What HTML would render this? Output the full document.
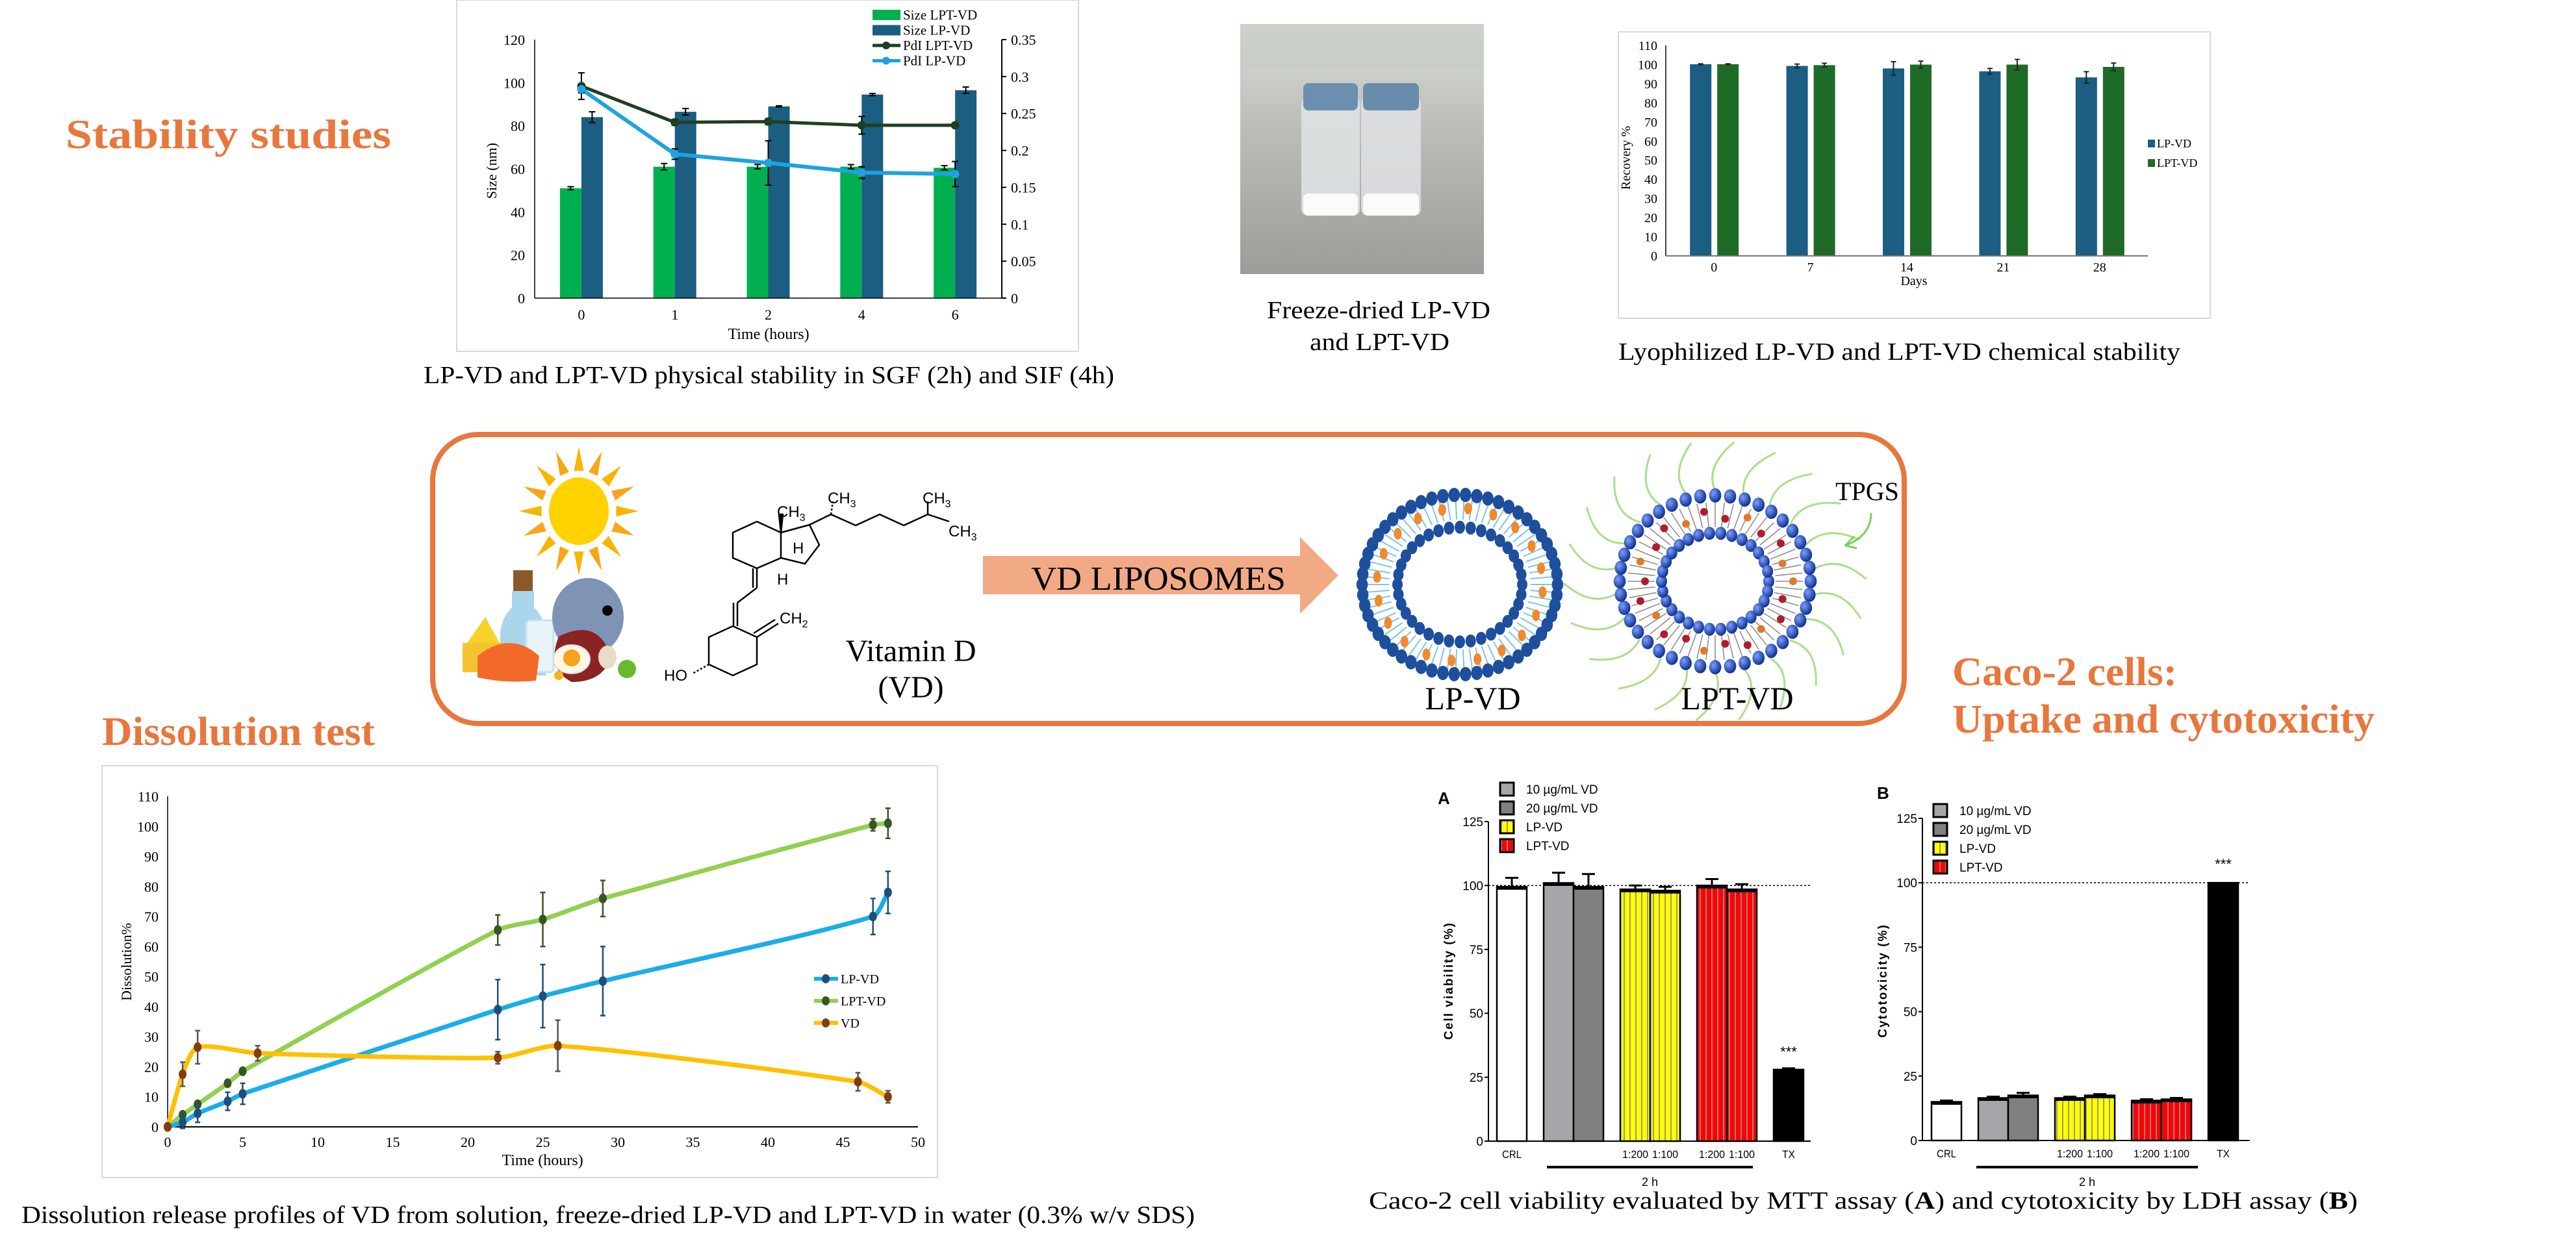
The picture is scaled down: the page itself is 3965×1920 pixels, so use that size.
<!DOCTYPE html>
<html><head><meta charset="utf-8"><style>
html,body{margin:0;padding:0;background:#fff;}
svg{display:block;}
text{font-family:"Liberation Serif",serif;}
.sans{font-family:"Liberation Sans",sans-serif;}
</style></head><body>
<svg id="root" width="3965" height="1920" viewBox="0 0 3965 1920" xmlns="http://www.w3.org/2000/svg">
<defs>
<pattern id="pYel" width="9" height="10" patternUnits="userSpaceOnUse"><rect width="9" height="10" fill="#ffff00"/><rect x="6" width="2" height="10" fill="#9a9a80"/></pattern>
<pattern id="pRed" width="9" height="10" patternUnits="userSpaceOnUse"><rect width="9" height="10" fill="#ff0000"/><rect x="6" width="2" height="10" fill="#a08080"/></pattern>
<radialGradient id="gBall" cx="0.35" cy="0.35" r="0.7"><stop offset="0" stop-color="#7aa0ff"/><stop offset="1" stop-color="#0b2a8a"/></radialGradient>
<linearGradient id="gPhoto" x1="0" y1="0" x2="0" y2="1"><stop offset="0" stop-color="#d8dcd8"/><stop offset="0.45" stop-color="#b9bbb6"/><stop offset="1" stop-color="#9c9d99"/></linearGradient>
</defs>

<!-- Titles -->
<text x="101" y="228" font-size="64" font-weight="bold" fill="#E8773D" textLength="501" lengthAdjust="spacingAndGlyphs">Stability studies</text>
<text x="157" y="1147" font-size="62" font-weight="bold" fill="#E8773D" textLength="420" lengthAdjust="spacingAndGlyphs">Dissolution test</text>
<text x="3005" y="1055" font-size="62" font-weight="bold" fill="#E8773D" textLength="346" lengthAdjust="spacingAndGlyphs">Caco-2 cells:</text>
<text x="3005" y="1128" font-size="62" font-weight="bold" fill="#E8773D" textLength="650" lengthAdjust="spacingAndGlyphs">Uptake and cytotoxicity</text>

<!-- Captions -->
<text x="652" y="590" font-size="38" textLength="1063" lengthAdjust="spacingAndGlyphs">LP-VD and LPT-VD physical stability in SGF (2h) and SIF (4h)</text>
<text x="1950" y="490" font-size="38" textLength="344" lengthAdjust="spacingAndGlyphs">Freeze-dried LP-VD</text>
<text x="2016" y="539" font-size="38" textLength="215" lengthAdjust="spacingAndGlyphs">and LPT-VD</text>
<text x="2491" y="554" font-size="38" textLength="865" lengthAdjust="spacingAndGlyphs">Lyophilized LP-VD and LPT-VD chemical stability</text>
<text x="33" y="1883" font-size="38" textLength="1806" lengthAdjust="spacingAndGlyphs">Dissolution release profiles of VD from solution, freeze-dried LP-VD and LPT-VD in water (0.3% w/v SDS)</text>
<text x="2107" y="1861" font-size="38" textLength="1522" lengthAdjust="spacingAndGlyphs">Caco-2 cell viability evaluated by MTT assay (<tspan font-weight="bold">A</tspan>) and cytotoxicity by LDH assay (<tspan font-weight="bold">B</tspan>)</text>

<!-- Photo -->
<g>
<rect x="1909" y="37" width="375" height="385" fill="url(#gPhoto)"/>
<rect x="1909" y="37" width="375" height="70" fill="#c8ccc6" opacity="0.7"/>
<rect x="2003" y="150" width="90" height="182" rx="10" fill="#e1e4e6" opacity="0.85"/>
<rect x="2095" y="150" width="92" height="182" rx="10" fill="#dfe2e5" opacity="0.85"/>
<rect x="2006" y="128" width="84" height="42" rx="8" fill="#6d8fae"/>
<rect x="2098" y="128" width="86" height="42" rx="8" fill="#6a8cab"/>
<rect x="2006" y="298" width="84" height="34" rx="8" fill="#fbfbfb"/>
<rect x="2098" y="298" width="86" height="34" rx="8" fill="#fbfbfb"/>
</g>

<!-- Middle box -->
<rect x="666" y="669" width="2265" height="445" rx="70" fill="#fff" stroke="#E8773D" stroke-width="8"/>
<g id="sun"></g>
<g>
<rect x="790" y="878" width="30" height="32" fill="#8a5a2b"/>
<path d="M788 910 h34 v25 q18 18 18 45 v60 h-70 v-60 q0 -27 18 -45z" fill="#a9d6ea"/>
<rect x="810" y="955" width="42" height="80" rx="6" fill="#e8f4f8" stroke="#bfe3ef" stroke-width="3"/>
<ellipse cx="905" cy="950" rx="55" ry="60" fill="#7f93b5"/>
<circle cx="935" cy="940" r="8" fill="#000"/>
<path d="M712 1000 l35 -50 l30 55 z" fill="#f7d22a"/>
<rect x="712" y="990" width="65" height="45" fill="#f4c430"/>
<path d="M860 980 q60 -30 80 30 q-10 40 -60 40 q-40 -20 -20 -70z" fill="#8c2323"/>
<path d="M735 1010 q50 -40 95 0 l-5 38 q-45 5 -90 -5z" fill="#f26a2a"/>
<ellipse cx="880" cy="1015" rx="28" ry="22" fill="#fff7e6" stroke="#ddd" stroke-width="2"/>
<circle cx="880" cy="1013" r="13" fill="#f7a21b"/>
<circle cx="965" cy="1030" r="14" fill="#69b92e"/>
<ellipse cx="935" cy="1012" rx="14" ry="18" fill="#e9dcc8"/>
<circle cx="860" cy="1040" r="7" fill="#f5b321"/>
</g>
<g id="molecule" fill="none" stroke="#000" stroke-width="2.5">
<polyline points="1165,803 1202,820 1202,859 1165,875 1128,859 1128,820 1165,803"/>
<polyline points="1202,820 1246,808 1261,839 1239,868 1202,859"/>
<polyline points="1246,808 1279,792 1317,809 1354,792 1391,809 1428,792 1461,803"/>
<line x1="1428" y1="792" x2="1428" y2="772"/>
<line x1="1279" y1="792" x2="1282" y2="772" stroke-dasharray="3,3"/>
<polygon points="1202,820 1199,792 1205,792" fill="#000"/>
<line x1="1165" y1="875" x2="1165" y2="905"/><line x1="1159" y1="875" x2="1159" y2="905"/>
<line x1="1165" y1="905" x2="1135" y2="928"/>
<line x1="1135" y1="928" x2="1135" y2="964"/><line x1="1129" y1="928" x2="1129" y2="964"/>
<polyline points="1128,964 1165,981 1165,1023 1128,1040 1091,1023 1091,981 1128,964"/>
<line x1="1165" y1="981" x2="1198" y2="960"/><line x1="1160" y1="975" x2="1193" y2="954"/>
<line x1="1091" y1="1023" x2="1066" y2="1037" stroke-dasharray="3,3"/>
</g>
<g font-size="24" class="sans">
<text x="1274" y="775" class="sans">CH<tspan font-size="16" dy="6">3</tspan></text>
<text x="1420" y="775" class="sans">CH<tspan font-size="16" dy="6">3</tspan></text>
<text x="1196" y="796" class="sans">CH<tspan font-size="16" dy="6">3</tspan></text>
<text x="1460" y="826" class="sans">CH<tspan font-size="16" dy="6">3</tspan></text>
<text x="1220" y="852" class="sans">H</text>
<text x="1196" y="900" class="sans">H</text>
<text x="1200" y="960" class="sans">CH<tspan font-size="16" dy="6">2</tspan></text>
<text x="1022" y="1048" class="sans">HO</text>
</g>
<text x="1402" y="1018" font-size="48" text-anchor="middle">Vitamin D</text>
<text x="1402" y="1074" font-size="48" text-anchor="middle">(VD)</text>
<polygon points="1513,856 2001,856 2001,827 2060,886 2001,945 2001,915 1513,915" fill="#F2AA86"/>
<text x="1587" y="908" font-size="52" textLength="392" lengthAdjust="spacingAndGlyphs">VD LIPOSOMES</text>
<g id="lipo1"></g>
<g id="lipo2"></g>
<text x="2267" y="1092" font-size="50" text-anchor="middle">LP-VD</text>
<text x="2674" y="1092" font-size="50" text-anchor="middle">LPT-VD</text>
<text x="2874" y="770" font-size="40" text-anchor="middle">TPGS</text>
<path d="M2880 790 q0 35 -40 50 m0 0 l14 -14 m-14 14 l18 4" fill="none" stroke="#7ccf5a" stroke-width="3"/>

<!-- Chart frames -->
<rect x="703" y="0" width="957" height="541" fill="none" stroke="#d9d9d9" stroke-width="2"/>
<rect x="2491" y="49" width="911" height="441" fill="none" stroke="#d9d9d9" stroke-width="2"/>
<rect x="157" y="1179" width="1286" height="634" fill="none" stroke="#d9d9d9" stroke-width="2"/>

<g id="c1"></g>
<g id="c2"></g>
<g id="c3"></g>
<g id="cA"></g>
<g id="cB"></g>
</svg>
<script>
// ===== Chart 1 data =====
const c1Cats = ['0','1','2','4','6'];
const c1SizeLPT = [51, 61, 61, 61, 60.5];
const c1SizeLPTErr = [0.7, 1.5, 1, 1, 1];
const c1SizeLP = [84, 86.5, 89, 94.5, 96.5];
const c1SizeLPErr = [2.5, 1.5, 0.3, 0.5, 1.5];
const c1PdiLPT = [0.287, 0.238, 0.239, 0.234, 0.234];
const c1PdiLPTErr = [0.018, 0.004, 0.004, 0.012, 0.003];
const c1PdiLP = [0.283, 0.195, 0.183, 0.170, 0.168];
const c1PdiLPErr = [0.005, 0.007, 0.03, 0.008, 0.017];
const c1LeftTicks = [0, 20, 40, 60, 80, 100, 120];
const c1RightTicks = ['0', '0.05', '0.1', '0.15', '0.2', '0.25', '0.3', '0.35'];
// ===== Chart 2 data =====
const c2XTicks = [0, 5, 10, 15, 20, 25, 30, 35, 40, 45, 50];
const c2YTicks = [0, 10, 20, 30, 40, 50, 60, 70, 80, 90, 100, 110];
const c2LPt = [0, 1, 2, 4, 5, 22, 25, 29, 47, 48];
const c2LP = [0, 1.5, 4.5, 8.5, 11, 39, 43.5, 48.5, 70, 78];
const c2LPErr = [0, 2, 3, 3, 3.5, 10, 10.5, 11.5, 6, 7];
const c2LPTt = [0, 1, 2, 4, 5, 22, 25, 29, 47, 48];
const c2LPT = [0, 4, 7.5, 14.5, 18.5, 65.5, 69, 76, 100.5, 101];
const c2LPTErr = [0, 0.5, 1, 1, 1, 5, 9, 6, 2, 5];
const c2VDt = [0, 1, 2, 6, 22, 26, 46, 48];
const c2VD = [0, 17.5, 26.5, 24.5, 23, 27, 15, 10];
const c2VDErr = [0, 4, 5.5, 2.5, 2, 8.5, 3, 2];
// ===== Chart 3 data =====
const c3Cats = ['0', '7', '14', '21', '28'];
const c3LP = [100.2, 99.3, 98, 96.5, 93.3];
const c3LPErr = [0.2, 1, 3.5, 1.5, 3];
const c3LPT = [100.2, 99.7, 100, 100, 98.8];
const c3LPTErr = [0.2, 1, 1.8, 2.7, 2];
const c3YTicks = [0, 10, 20, 30, 40, 50, 60, 70, 80, 90, 100, 110];
// ===== Caco-2 data =====
const cacoGroups = [[0], [1, 2], [3, 4], [5, 6], [7]];
const cacoXLabels = ['CRL', '', '', '1:200', '1:100', '1:200', '1:100', 'TX'];
const cacoViability = [99.5, 101, 99.5, 98.5, 98, 100, 98.5, 28];
const cacoViabilityErr = [3.5, 4, 5, 1.5, 1.5, 2.5, 2, 0.5];
const cacoCytotox = [15, 16.5, 17.5, 16.5, 17.5, 15.5, 16, 100];
const cacoCytotoxErr = [0.5, 0.5, 1, 0.5, 0.5, 0.5, 0.5, 0];
const cacoYTicks = [0, 25, 50, 75, 100, 125];
const cacoLegend = ['10 µg/mL VD', '20 µg/mL VD', 'LP-VD', 'LPT-VD'];

const NS = 'http://www.w3.org/2000/svg';
function mk(tag, attrs, parent) {
  const el = document.createElementNS(NS, tag);
  for (const k in attrs) el.setAttribute(k, attrs[k]);
  parent.appendChild(el);
  return el;
}
function txt(s, attrs, parent) { const t = mk('text', attrs, parent); t.textContent = s; return t; }

// ---------- Chart 1 ----------
(function () {
  const g = document.getElementById('c1');
  const L = 823, R = 1542, B = 459, T = 61;
  const y = v => B - v * (B - T) / 120;
  const yr = v => B - v * (B - T) / 0.35;
  const band = (R - L) / c1Cats.length;
  const cx = i => L + band * (i + 0.5);
  c1LeftTicks.forEach(v => {
    const t = txt(String(v), {x: 808, y: y(v) + 8, 'font-size': 22, 'text-anchor': 'end'}, g);
    
    
  });
  c1RightTicks.forEach(s => {
    const v = parseFloat(s);
    const t = txt(s, {x: 1556, y: yr(v) + 8, 'font-size': 22}, g);
    
    
    mk('line', {x1: R, x2: R + 7, y1: yr(v), y2: yr(v), stroke: '#000', 'stroke-width': 2}, g);
  });
  c1Cats.forEach((c, i) => {
    const bw = 33;
    const b1 = mk('rect', {x: cx(i) - bw, y: y(c1SizeLPT[i]), width: bw, height: B - y(c1SizeLPT[i]), fill: '#00B050'}, g);
    
    
    const b2 = mk('rect', {x: cx(i), y: y(c1SizeLP[i]), width: bw, height: B - y(c1SizeLP[i]), fill: '#1B5E82'}, g);
    
    
    [[cx(i) - bw / 2, c1SizeLPT[i], c1SizeLPTErr[i]], [cx(i) + bw / 2, c1SizeLP[i], c1SizeLPErr[i]]].forEach(([x, v, e]) => {
      mk('path', {d: `M${x} ${y(v + e)}V${y(v - e)}M${x - 5} ${y(v + e)}h10M${x - 5} ${y(v - e)}h10`, stroke: '#000', 'stroke-width': 2, fill: 'none'}, g);
    });
    const l = txt(c, {x: cx(i), y: 492, 'font-size': 22, 'text-anchor': 'middle'}, g);
    
    
  });
  [[c1PdiLPT, c1PdiLPTErr, '#1E3F20', 5, 'pdi-lpt-vd-line'], [c1PdiLP, c1PdiLPErr, '#1EA3DE', 6, 'pdi-lp-vd-line']].forEach(([vals, errs, col, w, nm]) => {
    const pl = mk('polyline', {points: vals.map((v, i) => cx(i) + ',' + yr(v)).join(' '), fill: 'none', stroke: col, 'stroke-width': w}, g);
    
    
    vals.forEach((v, i) => {
      const e = errs[i], x = cx(i);
      mk('path', {d: `M${x} ${yr(v + e)}V${yr(v - e)}M${x - 5} ${yr(v + e)}h10M${x - 5} ${yr(v - e)}h10`, stroke: '#000', 'stroke-width': 2, fill: 'none'}, g);
      const p = mk('circle', {cx: x, cy: yr(v), r: 6.5, fill: col}, g);
      
      
    });
  });
  mk('line', {x1: L, x2: L, y1: T, y2: B, stroke: '#000', 'stroke-width': 1.5}, g);
  mk('line', {x1: R, x2: R, y1: T, y2: B, stroke: '#000', 'stroke-width': 2}, g);
  mk('line', {x1: L, x2: R, y1: B, y2: B, stroke: '#000', 'stroke-width': 1.5}, g);
  const xt = txt('Time (hours)', {x: 1183, y: 522, 'font-size': 24, 'text-anchor': 'middle'}, g);
  
  
  const yt = txt('Size (nm)', {x: 0, y: 0, 'font-size': 22, 'text-anchor': 'middle', transform: 'translate(764,263) rotate(-90)'}, g);
  
  
  const leg = [['Size LPT-VD', '#00B050', 'bar'], ['Size LP-VD', '#1B5E82', 'bar'], ['PdI LPT-VD', '#1E3F20', 'line'], ['PdI LP-VD', '#1EA3DE', 'line']];
  leg.forEach(([s, col, k], i) => {
    const yy = 23 + i * 23.5;
    if (k === 'bar') mk('rect', {x: 1343, y: yy - 8, width: 43, height: 16, fill: col}, g);
    else { mk('line', {x1: 1343, x2: 1386, y1: yy, y2: yy, stroke: col, 'stroke-width': 5}, g); mk('circle', {cx: 1364, cy: yy, r: 6, fill: col}, g); }
    const t = txt(s, {x: 1390, y: yy + 7, 'font-size': 21}, g);
    
    
  });
})();

// ---------- Chart 2 ----------
// Gentle smoothing: tangent direction from neighbours, handle length limited to a fraction of each segment
function smoothPath(pts) {
  const n = pts.length;
  const dirs = [];
  for (let i = 0; i < n; i++) {
    const p0 = pts[Math.max(0, i - 1)], p2 = pts[Math.min(n - 1, i + 1)];
    let dx = p2[0] - p0[0], dy = p2[1] - p0[1];
    const l = Math.hypot(dx, dy) || 1;
    dirs.push([dx / l, dy / l]);
  }
  let d = `M${pts[0][0]} ${pts[0][1]}`;
  for (let i = 0; i < n - 1; i++) {
    const a = pts[i], b = pts[i + 1];
    const len = Math.hypot(b[0] - a[0], b[1] - a[1]);
    const h = len * 0.22;
    d += `C${a[0] + dirs[i][0] * h} ${a[1] + dirs[i][1] * h} ${b[0] - dirs[i + 1][0] * h} ${b[1] - dirs[i + 1][1] * h} ${b[0]} ${b[1]}`;
  }
  return d;
}
(function () {
  const g = document.getElementById('c2');
  const L = 258, R = 1413, B = 1735, T = 1226;
  const x = v => L + v * (R - L) / 50;
  const y = v => B - v * (B - T) / 110;
  c2YTicks.forEach(v => {
    const t = txt(String(v), {x: 244, y: y(v) + 8, 'font-size': 22, 'text-anchor': 'end'}, g);
    
    
  });
  c2XTicks.forEach(v => {
    const t = txt(String(v), {x: x(v), y: 1766, 'font-size': 22, 'text-anchor': 'middle'}, g);
    
    
  });
  mk('line', {x1: L, x2: L, y1: T, y2: B, stroke: '#000', 'stroke-width': 1.5}, g);
  mk('line', {x1: L, x2: R, y1: B, y2: B, stroke: '#000', 'stroke-width': 2}, g);
  const series = [
    [c2LPTt, c2LPT, c2LPTErr, '#92D050', '#375623', 'lpt-vd-series'],
    [c2LPt, c2LP, c2LPErr, '#1AAEE8', '#1F4E79', 'lp-vd-series'],
    [c2VDt, c2VD, c2VDErr, '#FFC000', '#843C0C', 'vd-series']
  ];
  series.forEach(([ts, vs, es, lc, mc, nm]) => {
    const pts = ts.map((t, i) => [x(t), y(vs[i])]);
    const p = mk('path', {d: smoothPath(pts), fill: 'none', stroke: lc, 'stroke-width': 7, 'stroke-linejoin': 'round'}, g);
    
    
  });
  series.forEach(([ts, vs, es, lc, mc, nm]) => {
    const ec = nm === 'vd-series' ? '#555' : mc;
    ts.forEach((t, i) => {
      const xx = x(t), v = vs[i], e = es[i];
      if (e > 0) mk('path', {d: `M${xx} ${y(v + e)}V${y(v - e)}M${xx - 4} ${y(v + e)}h8M${xx - 4} ${y(v - e)}h8`, stroke: ec, 'stroke-width': 2.5, fill: 'none'}, g);
      const c = mk('ellipse', {cx: xx, cy: y(v), rx: 6, ry: 7.5, fill: mc}, g);
      
      
    });
  });
  [['LP-VD', '#1AAEE8', '#1F4E79'], ['LPT-VD', '#92D050', '#375623'], ['VD', '#FFC000', '#843C0C']].forEach(([s, lc, mc], i) => {
    const yy = 1507 + i * 34;
    mk('line', {x1: 1253, x2: 1290, y1: yy, y2: yy, stroke: lc, 'stroke-width': 6}, g);
    mk('ellipse', {cx: 1271, cy: yy, rx: 6, ry: 7, fill: mc}, g);
    const t = txt(s, {x: 1294, y: yy + 7, 'font-size': 20}, g);
    
    
  });
  const xt = txt('Time (hours)', {x: 835, y: 1794, 'font-size': 24, 'text-anchor': 'middle'}, g);
  
  
  const yt = txt('Dissolution%', {x: 0, y: 0, 'font-size': 22, 'text-anchor': 'middle', transform: 'translate(202,1481) rotate(-90)'}, g);
  
  
})();

// ---------- Chart 3 ----------
(function () {
  const g = document.getElementById('c3');
  const L = 2564, R = 3306, B = 394, T = 70;
  const y = v => B - v * (B - T) / 110;
  const band = (R - L) / c3Cats.length;
  const cx = i => L + band * (i + 0.5);
  c3YTicks.forEach(v => {
    const t = txt(String(v), {x: 2551, y: y(v) + 7, 'font-size': 20, 'text-anchor': 'end'}, g);
    
    
  });
  c3Cats.forEach((c, i) => {
    const bw = 33;
    const b1 = mk('rect', {x: cx(i) - 37, y: y(c3LP[i]), width: bw, height: B - y(c3LP[i]), fill: '#1B5E82'}, g);
    
    
    const b2 = mk('rect', {x: cx(i) + 5, y: y(c3LPT[i]), width: bw, height: B - y(c3LPT[i]), fill: '#1E6B27'}, g);
    
    
    [[cx(i) - 20.5, c3LP[i], c3LPErr[i]], [cx(i) + 21.5, c3LPT[i], c3LPTErr[i]]].forEach(([x, v, e]) => {
      mk('path', {d: `M${x} ${y(v + e)}V${y(v - e)}M${x - 4} ${y(v + e)}h8M${x - 4} ${y(v - e)}h8`, stroke: '#10301a', 'stroke-width': 2, fill: 'none'}, g);
    });
    const l = txt(c, {x: cx(i), y: 418, 'font-size': 20, 'text-anchor': 'middle'}, g);
    
    
  });
  mk('line', {x1: L, x2: L, y1: T, y2: B, stroke: '#000', 'stroke-width': 1.5}, g);
  mk('line', {x1: L, x2: R, y1: B, y2: B, stroke: '#777', 'stroke-width': 2}, g);
  [['LP-VD', '#1B5E82'], ['LPT-VD', '#1E6B27']].forEach(([s, col], i) => {
    const yy = 221 + i * 30;
    mk('rect', {x: 3306, y: yy - 6, width: 11, height: 12, fill: col}, g);
    const t = txt(s, {x: 3320, y: yy + 6, 'font-size': 18}, g);
    
    
  });
  const xt = txt('Days', {x: 2946, y: 439, 'font-size': 20, 'text-anchor': 'middle'}, g);
  
  
  const yt = txt('Recovery %', {x: 0, y: 0, 'font-size': 20, 'text-anchor': 'middle', transform: 'translate(2509,243) rotate(-90)'}, g);
  
  
})();

// ---------- Caco-2 panels ----------
function cacoPanel(id, L, B, T, R, start, vals, errs, title, letter, letterPos, legX, legY0, legStep, starY, lineX) {
  const g = document.getElementById(id);
  const y = v => B - v * (B - T) / 125;
  const fills = ['#ffffff', '#a6a6aa', '#808080', 'url(#pYel)', 'url(#pYel)', 'url(#pRed)', 'url(#pRed)', '#000000'];
  const bw = 46, gap = 26;
  let x = start;
  const xs = [];
  cacoGroups.forEach(grp => { grp.forEach(idx => { xs[idx] = x; x += bw; }); x += gap; });
  cacoYTicks.forEach(v => {
    mk('line', {x1: L - 6, x2: L, y1: y(v), y2: y(v), stroke: '#000', 'stroke-width': 2}, g);
    const t = txt(String(v), {x: L - 8, y: y(v) + 7, 'font-size': 19, 'text-anchor': 'end', class: 'sans'}, g);
    
    
  });
  mk('line', {x1: L, x2: R, y1: y(100), y2: y(100), stroke: '#000', 'stroke-width': 1.5, 'stroke-dasharray': '3,3'}, g);
  vals.forEach((v, i) => {
    const xx = xs[i], e = errs[i], mid = xx + bw / 2;
    if (e > 0) mk('path', {d: `M${mid} ${y(v)}V${y(v + e)}M${mid - 10} ${y(v + e)}h20`, stroke: '#000', 'stroke-width': 3, fill: 'none'}, g);
    const b = mk('rect', {x: xx, y: y(v), width: bw, height: B - y(v), fill: fills[i], stroke: '#000', 'stroke-width': 2.5}, g);
    
    
    mk('line', {x1: xx, x2: xx + bw, y1: y(v) + 2, y2: y(v) + 2, stroke: '#000', 'stroke-width': 5}, g);
    if (cacoXLabels[i]) {
      const t = txt(cacoXLabels[i], {x: mid, y: B + 26, 'font-size': 17, 'text-anchor': 'middle', class: 'sans', textLength: cacoXLabels[i].length > 3 ? 40 : (cacoXLabels[i].length * 10), lengthAdjust: 'spacingAndGlyphs'}, g);
      
      
    }
  });
  mk('line', {x1: L, x2: L, y1: T, y2: B, stroke: '#000', 'stroke-width': 2}, g);
  mk('line', {x1: L, x2: R, y1: B, y2: B, stroke: '#000', 'stroke-width': 2}, g);
  const st = txt('***', {x: xs[7] + bw / 2, y: starY, 'font-size': 22, 'text-anchor': 'middle', class: 'sans'}, g);
  
  
  const gl = mk('line', {x1: lineX[0], x2: lineX[1], y1: 1797, y2: 1797, stroke: '#000', 'stroke-width': 4}, g);
  
  
  const h = txt('2 h', {x: (lineX[0] + lineX[1]) / 2, y: 1826, 'font-size': 18, 'text-anchor': 'middle', class: 'sans'}, g);
  
  
  const lt = txt(letter, {x: letterPos[0], y: letterPos[1], 'font-size': 26, 'font-weight': 'bold', class: 'sans'}, g);
  
  
  const yt = txt(title, {x: 0, y: 0, 'font-size': 19, 'font-weight': 'bold', 'text-anchor': 'middle', class: 'sans', 'letter-spacing': '2', transform: `translate(${L - 55},1510) rotate(-90)`}, g);
  
  
  const lf = ['#a6a6aa', '#808080', 'url(#pYel)', 'url(#pRed)'];
  cacoLegend.forEach((s, i) => {
    const yy = legY0 + i * legStep;
    mk('rect', {x: legX, y: yy - 10, width: 21, height: 20, fill: lf[i], stroke: '#000', 'stroke-width': 3}, g);
    const t = txt(s, {x: legX + 40, y: yy + 7, 'font-size': 19, class: 'sans'}, g);
    
    
  });
}
cacoPanel('cA', 2291, 1757, 1265, 2787, 2304, cacoViability, cacoViabilityErr, 'Cell viability (%)', 'A', [2213, 1238], 2309, 1215, 29, 1627, [2381, 2698]);
cacoPanel('cB', 2959, 1756, 1260, 3463, 2973, cacoCytotox, cacoCytotoxErr, 'Cytotoxicity (%)', 'B', [2889, 1230], 2976, 1248, 29, 1338, [3042, 3383]);

// ---------- Decorations: sun ----------
(function () {
  const g = document.getElementById('sun');
  const cx = 891, cy = 787;
  for (let i = 0; i < 16; i++) {
    const a = i * Math.PI / 8;
    const r1 = 58, r2 = 92, w = 0.13;
    const p = mk('polygon', {points: [[cx + r1 * Math.cos(a - w), cy + r1 * 1.08 * Math.sin(a - w)], [cx + r2 * Math.cos(a), cy + r2 * 1.08 * Math.sin(a)], [cx + r1 * Math.cos(a + w), cy + r1 * 1.08 * Math.sin(a + w)]].map(q => q.join(',')).join(' '), fill: i % 2 ? '#F9A51A' : '#F7B500'}, g);
    
    
  }
  const d = mk('ellipse', {cx: cx, cy: cy, rx: 46, ry: 52, fill: '#FFD200'}, g);
  
  
})();

// ---------- Decorations: liposomes ----------
(function () {
  const g1 = document.getElementById('lipo1');
  const cx = 2247, cy = 900, rx = 160, ry = 147;
  for (let k = 0; k < 70; k++) {
    const a = k * 2 * Math.PI / 70;
    const l = mk('line', {x1: cx + rx * 0.68 * Math.cos(a), y1: cy + ry * 0.68 * Math.sin(a), x2: cx + rx * 0.9 * Math.cos(a), y2: cy + ry * 0.9 * Math.sin(a), stroke: '#7fc4ea', 'stroke-width': 2}, g1);
    
    
  }
  for (let k = 0; k < 20; k++) {
    const a = k * 2 * Math.PI / 20 + 0.1;
    const o = mk('ellipse', {cx: cx + rx * 0.8 * Math.cos(a), cy: cy + ry * 0.8 * Math.sin(a), rx: 6, ry: 9, fill: '#F08A2A'}, g1);
    
    
  }
  [[0.94, 54, 11], [0.6, 36, 10]].forEach(([s, n, r]) => {
    for (let k = 0; k < n; k++) {
      const a = k * 2 * Math.PI / n;
      const c = mk('ellipse', {cx: cx + rx * s * Math.cos(a), cy: cy + ry * s * Math.sin(a), rx: r * 0.8, ry: r, fill: '#1D4F9C'}, g1);
      
      
    }
  });
  const g2 = document.getElementById('lipo2');
  const cx2 = 2640, cy2 = 895, rx2 = 150, ry2 = 135;
  for (let k = 0; k < 22; k++) {
    const a = k * 2 * Math.PI / 22 + 0.15;
    const x1 = cx2 + rx2 * 1.02 * Math.cos(a), y1 = cy2 + ry2 * 1.02 * Math.sin(a);
    const x2 = cx2 + rx2 * 1.55 * Math.cos(a + 0.12), y2 = cy2 + ry2 * 1.6 * Math.sin(a + 0.12);
    const mx = cx2 + rx2 * 1.3 * Math.cos(a - 0.1), my = cy2 + ry2 * 1.3 * Math.sin(a - 0.1);
    const t = mk('path', {d: `M${x1} ${y1}Q${mx} ${my} ${x2} ${y2}`, fill: 'none', stroke: '#a8e08a', 'stroke-width': 3}, g2);
    
    
  }
  for (let k = 0; k < 60; k++) {
    const a = k * 2 * Math.PI / 60;
    const l = mk('line', {x1: cx2 + rx2 * 0.62 * Math.cos(a), y1: cy2 + ry2 * 0.62 * Math.sin(a), x2: cx2 + rx2 * 0.9 * Math.cos(a), y2: cy2 + ry2 * 0.9 * Math.sin(a), stroke: '#888', 'stroke-width': 1.5}, g2);
    
    
  }
  for (let k = 0; k < 22; k++) {
    const a = k * 2 * Math.PI / 22;
    const s = k % 2 ? 0.72 : 0.8;
    const o = mk('circle', {cx: cx2 + rx2 * s * Math.cos(a), cy: cy2 + ry2 * s * Math.sin(a), r: 6, fill: k % 3 ? '#b01c2e' : '#e07a2a'}, g2);
    
    
  }
  [[0.98, 40, 11], [0.55, 30, 10]].forEach(([s, n, r]) => {
    for (let k = 0; k < n; k++) {
      const a = k * 2 * Math.PI / n;
      const c = mk('ellipse', {cx: cx2 + rx2 * s * Math.cos(a), cy: cy2 + ry2 * s * Math.sin(a), rx: r * 0.85, ry: r, fill: 'url(#gBall)'}, g2);
      
      
    }
  });
})();
</script>
</body></html>
